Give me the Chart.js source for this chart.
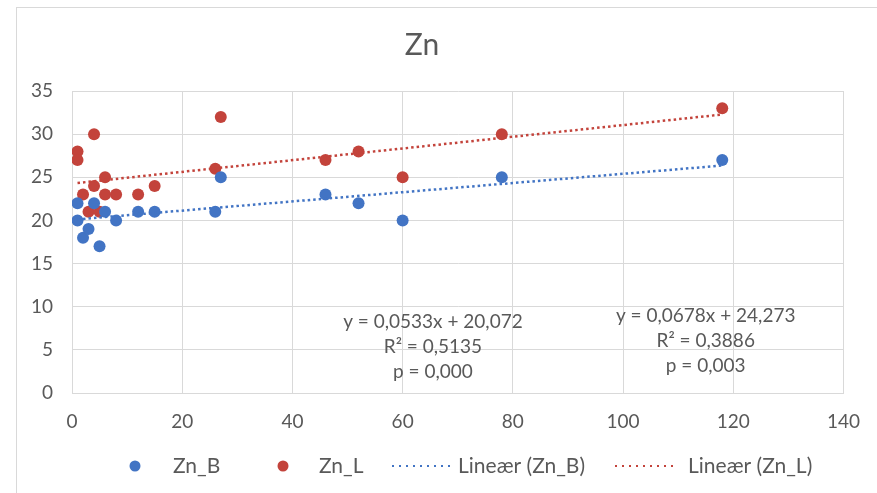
<!DOCTYPE html>
<html>
<head>
<meta charset="utf-8">
<script src="https://cdn.jsdelivr.net/npm/chart.js@4.4.1/dist/chart.umd.min.js"></script>
<style>
  html, body { margin: 0; padding: 0; background: #fff; }
  #wrap { width: 877px; height: 493px; }
</style>
</head>
<body>
<div id="wrap"><canvas id="myChart" width="877" height="493"></canvas></div>
<script>
// data
const znBx = [1, 1, 2, 3, 4, 5, 6, 8, 12, 15, 26, 27, 46, 52, 60, 78, 118];
const znBy = [22, 20, 18, 19, 22, 17, 21, 20, 21, 21, 21, 25, 23, 22, 20, 25, 27];
const znLx = [1, 1, 2, 3, 4, 4, 5, 6, 6, 8, 12, 15, 26, 27, 46, 52, 60, 78, 118];
const znLy = [28, 27, 23, 21, 30, 24, 21, 25, 23, 23, 23, 24, 26, 32, 27, 28, 25, 30, 33];

// trendline coefficients as printed on the chart [slope, intercept]
const fitB = [0.0533, 20.072];
const fitL = [0.0678, 24.273];
const fitTextB = ['y = 0,0533x + 20,072', 'R² = 0,5135', 'p = 0,000'];
const fitTextL = ['y = 0,0678x + 24,273', 'R² = 0,3886', 'p = 0,003'];

const xTicks = [0, 20, 40, 60, 80, 100, 120, 140];
const yTicks = [0, 5, 10, 15, 20, 25, 30, 35];
const legendNames = ['Zn_B', 'Zn_L', 'Lineær (Zn_B)', 'Lineær (Zn_L)'];

const BLUE = '#4274c4';
const RED = '#c3433b';
const TEXT = '#595959';
const GRID = '#d9d9d9';
const FONT = 'Lato, "Noto Sans", sans-serif';

function toPoints(xs, ys) {
    return xs.map((x, i) => ({ x: x, y: ys[i] }));
}

function trend(xs, fit) {
    const lo = Math.min(...xs), hi = Math.max(...xs);
    return [{ x: lo, y: fit[0] * lo + fit[1] }, { x: hi, y: fit[0] * hi + fit[1] }];
}

// frame + background
const framePlugin = {
    id: 'frame',
    beforeDraw(chart) {
        const ctx = chart.ctx;
        ctx.save();
        ctx.fillStyle = '#fff';
        ctx.fillRect(0, 0, chart.width, chart.height);
        ctx.strokeStyle = GRID;
        ctx.lineWidth = 1;
        ctx.strokeRect(16.5, 7.5, chart.width, chart.height);
        ctx.restore();
    }
};

// equation labels
const fitLabels = {
    id: 'fitLabels',
    afterDatasetsDraw(chart) {
        const ctx = chart.ctx;
        const sx = chart.scales.x, sy = chart.scales.y;
        ctx.save();
        ctx.fillStyle = TEXT;
        ctx.font = '19px ' + FONT;
        ctx.textAlign = 'center';
        ctx.textBaseline = 'middle';
        const blocks = [
            { lines: fitTextB, x: 65.5, y: 8.2 },
            { lines: fitTextL, x: 115, y: 8.9 }
        ];
        blocks.forEach(b => {
            const px = sx.getPixelForValue(b.x);
            const py = sy.getPixelForValue(b.y);
            b.lines.forEach((t, i) => ctx.fillText(t, px, py + i * 25));
        });
        ctx.restore();
    }
};

// Excel-style legend row
const legendRow = {
    id: 'legendRow',
    afterDraw(chart) {
        const ctx = chart.ctx;
        const y = 466;
        ctx.save();
        ctx.textBaseline = 'middle';
        ctx.textAlign = 'left';

        ctx.fillStyle = BLUE;
        ctx.beginPath(); ctx.arc(135, y, 5.5, 0, Math.PI * 2); ctx.fill();
        ctx.fillStyle = RED;
        ctx.beginPath(); ctx.arc(283, y, 5.5, 0, Math.PI * 2); ctx.fill();

        ctx.lineWidth = 2;
        ctx.setLineDash([2, 5]);
        ctx.strokeStyle = BLUE;
        ctx.beginPath(); ctx.moveTo(392, y); ctx.lineTo(455, y); ctx.stroke();
        ctx.strokeStyle = RED;
        ctx.beginPath(); ctx.moveTo(615, y); ctx.lineTo(678, y); ctx.stroke();
        ctx.setLineDash([]);

        ctx.font = '21px ' + FONT;
        ctx.fillStyle = TEXT;
        ctx.fillText(legendNames[0], 173, y);
        ctx.fillText(legendNames[1], 319, y);
        ctx.fillText(legendNames[2], 458, y);
        ctx.fillText(legendNames[3], 688, y);
        ctx.restore();
    }
};

const ctx = document.getElementById('myChart').getContext('2d');
const myChart = new Chart(ctx, {
    type: 'scatter',
    data: {
        datasets: [
            {
                label: 'Lineær (Zn_B)',
                type: 'line',
                data: trend(znBx, fitB),
                borderColor: BLUE,
                borderWidth: 2.5,
                borderDash: [2.5, 3],
                pointRadius: 0,
                fill: false
            },
            {
                label: 'Lineær (Zn_L)',
                type: 'line',
                data: trend(znLx, fitL),
                borderColor: RED,
                borderWidth: 2.5,
                borderDash: [2.5, 3],
                pointRadius: 0,
                fill: false
            },
            {
                label: 'Zn_B',
                data: toPoints(znBx, znBy),
                backgroundColor: BLUE,
                borderColor: BLUE,
                pointRadius: 6,
                pointBorderWidth: 0
            },
            {
                label: 'Zn_L',
                data: toPoints(znLx, znLy),
                backgroundColor: RED,
                borderColor: RED,
                pointRadius: 6,
                pointBorderWidth: 0
            }
        ]
    },
    options: {
        responsive: false,
        animation: false,
        layout: { padding: { left: 0, right: 33, top: 0, bottom: 50 } },
        plugins: {
            legend: { display: false },
            tooltip: { enabled: false },
            title: {
                display: true,
                text: 'Zn',
                color: TEXT,
                font: { family: FONT, size: 30, weight: 'normal' },
                padding: { top: 27, bottom: 28 }
            }
        },
        scales: {
            x: {
                type: 'linear',
                min: 0,
                max: 140,
                afterBuildTicks: s => { s.ticks = xTicks.map(v => ({ value: v })); },
                afterFit: s => { s.height = 50; },
                grid: { color: GRID, drawTicks: false },
                border: { color: GRID },
                ticks: { color: TEXT, padding: 17, font: { family: FONT, size: 19 } }
            },
            y: {
                min: 0,
                max: 35,
                afterBuildTicks: s => { s.ticks = yTicks.map(v => ({ value: v })); },
                afterFit: s => { s.width = 72; },
                grid: { color: GRID, drawTicks: false },
                border: { color: GRID },
                ticks: { color: TEXT, padding: 19, font: { family: FONT, size: 19 } }
            }
        }
    },
    plugins: [framePlugin, fitLabels, legendRow]
});
</script>
</body>
</html>
